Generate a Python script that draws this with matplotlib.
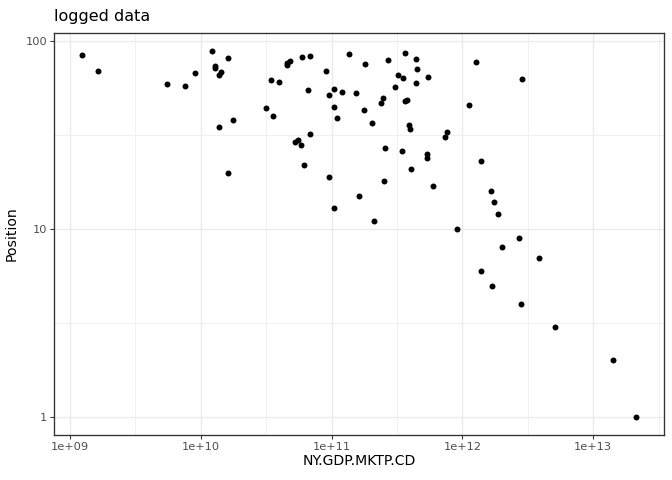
import matplotlib
matplotlib.use('Agg')
import matplotlib.pyplot as plt
import numpy as np

# GDP (current US$) and position
gdp = [1.235e9, 1.64e9, 5.57e9, 7.55e9, 9.0e9, 1.213e10, 1.279e10, 1.279e10, 1.421e10, 1.372e10,
       1.607e10, 1.372e10, 1.755e10, 1.607e10, 3.134e10, 3.544e10, 3.42e10, 3.94e10, 4.535e10, 4.535e10,
       4.86e10, 5.90e10, 6.79e10, 6.56e10, 5.22e10, 5.50e10, 5.80e10, 6.91e10, 6.11e10, 9.0e10,
       9.65e10, 1.054e11, 1.054e11, 1.092e11, 9.65e10, 1.036e11, 1.372e11, 1.213e11, 1.552e11, 1.818e11,
       1.786e11, 2.056e11, 2.72e11, 2.494e11, 2.408e11, 3.67e11, 3.247e11, 3.545e11, 3.08e11, 3.67e11,
       3.80e11, 4.456e11, 4.535e11, 4.456e11, 5.50e11, 3.94e11, 4.01e11, 2.583e11, 3.48e11, 5.41e11,
       5.41e11, 4.08e11, 2.538e11, 6.0e11, 1.627e11, 2.129e11, 7.42e11, 7.68e11, 1.279e12, 1.131e12,
       1.396e12, 1.665e12, 1.755e12, 1.873e12, 9.16e11, 2.87e12, 2.72e12, 2.02e12, 3.87e12, 1.396e12,
       1.694e12, 2.82e12, 5.13e12, 1.421e13, 2.13e13]
position = [85, 70, 59, 58, 68, 89, 74, 72, 69, 66,
            82, 35, 38, 20, 44, 40, 62, 61, 77, 75,
            79, 83, 84, 55, 29, 30, 28, 32, 22, 70,
            52, 56, 45, 39, 19, 13, 86, 54, 53, 76,
            43, 37, 80, 50, 47, 87, 66, 64, 57, 48,
            49, 81, 71, 60, 65, 36, 34, 27, 26, 25,
            24, 21, 18, 17, 15, 11, 31, 33, 78, 46,
            23, 16, 14, 12, 10, 63, 9, 8, 7, 6,
            5, 4, 3, 2, 1]

x_ticks = [1e9, 1e10, 1e11, 1e12, 1e13]
x_labels = ['1e+09', '1e+10', '1e+11', '1e+12', '1e+13']
y_ticks = [1, 10, 100]
y_labels = ['1', '10', '100']

fig = plt.figure(figsize=(7, 5), dpi=96)
ax = fig.add_axes([54/672, 1-435/480, 610/672, (435-32.7)/480])

lx = np.log10(gdp)
ly = np.log10(position)
ex = (lx.max() - lx.min()) * 0.05
ey = (ly.max() - ly.min()) * 0.05
ax.set_xscale('log')
ax.set_yscale('log')
ax.set_xlim(10**(lx.min()-ex), 10**(lx.max()+ex))
ax.set_ylim(10**(ly.min()-ey), 10**(ly.max()+ey))

# ggplot-like grid: major + minor at log midpoints
for v in x_ticks:
    ax.axvline(v, color='#EBEBEB', lw=1.0, zorder=0)
for v in [10**9.5, 10**10.5, 10**11.5, 10**12.5, 10**13.5]:
    ax.axvline(v, color='#EBEBEB', lw=0.5, zorder=0)
for v in y_ticks:
    ax.axhline(v, color='#EBEBEB', lw=1.0, zorder=0)
for v in [10**0.5, 10**1.5]:
    ax.axhline(v, color='#EBEBEB', lw=0.5, zorder=0)

ax.scatter(gdp, position, s=20, color='black', linewidths=0, zorder=3)

ax.set_xticks(x_ticks)
ax.set_xticklabels(x_labels)
ax.set_yticks(y_ticks)
ax.set_yticklabels(y_labels)
ax.minorticks_off()
ax.tick_params(length=3, width=0.8, color='#333333', labelcolor='#4D4D4D', labelsize=8.5, pad=2)
for s in ax.spines.values():
    s.set_color('#333333')
    s.set_linewidth(1.0)

ax.set_xlabel('NY.GDP.MKTP.CD', fontsize=10.5, color='black', labelpad=2)
ax.set_ylabel('Position', fontsize=10.5, color='black', labelpad=5)
fig.text(54/672, 1-16/480, 'logged data', fontsize=12, ha='left', va='center')

fig.savefig('out.png', dpi=96)
